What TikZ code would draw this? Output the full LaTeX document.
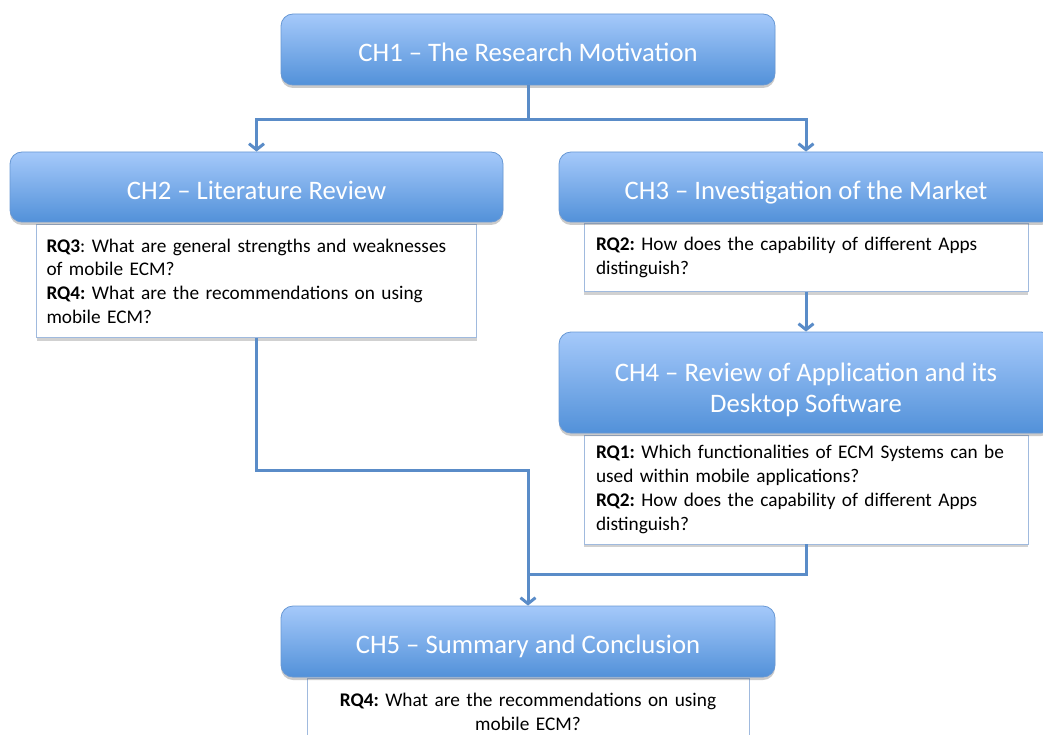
\documentclass[tikz,border=0pt]{standalone}
\usepackage{fontspec}
\setmainfont{Carlito}
\usetikzlibrary{arrows.meta,shadows}
\definecolor{gtop}{RGB}{165,201,250}
\definecolor{gbot}{RGB}{82,145,217}
\definecolor{gborder}{RGB}{104,152,212}
\definecolor{wborder}{RGB}{160,186,222}
\definecolor{conn}{RGB}{90,140,200}
\tikzset{
  headbox/.style={rounded corners=12pt, draw=gborder, line width=0.8pt,
    top color=gtop, bottom color=gbot, text=white, align=center,
    inner sep=0pt, minimum width=494pt,
    font=\fontsize{26.7}{31.5}\selectfont,
    execute at begin node={\rule{0pt}{34pt}},
    execute at end node=\strut,
    drop shadow={shadow xshift=0pt, shadow yshift=-3pt, opacity=0.35, fill=black!60}},
  qbox/.style={draw=wborder, line width=0.8pt, fill=white, inner sep=0pt,
    text width=420pt, align=left,
    font=\fontsize{19.3}{23.7}\selectfont\frenchspacing,
    drop shadow={shadow xshift=0pt, shadow yshift=-3pt, opacity=0.3, fill=black!60}},
  connector/.style={draw=conn, line width=3pt},
  arrowed/.style={connector, -{Straight Barb[length=6pt,width=15pt,line width=3pt]}}
}
\begin{document}
\begin{tikzpicture}[x=1pt,y=-1pt]
\useasboundingbox (0,0) rectangle (1043,735);
% question boxes
\node[qbox, minimum width=440pt, minimum height=113pt] (w2) at (256.5,281) {\textbf{RQ3}: What are general strengths and weaknesses\\of mobile ECM?\\\textbf{RQ4:} What are the recommendations on using\\mobile ECM?};
\node[qbox, minimum width=444pt, minimum height=68pt] (w3) at (806,257.5) {\textbf{RQ2:} How does the capability of different Apps\\distinguish?};
\node[qbox, minimum width=444pt, minimum height=109pt] (w4) at (806,489.5) {\textbf{RQ1:} Which functionalities of ECM Systems can be\\used within mobile applications?\\\textbf{RQ2:} How does the capability of different Apps\\distinguish?};
\node[qbox, minimum width=442pt, minimum height=68pt, align=center] (w5) at (528,712) {\textbf{RQ4:} What are the recommendations on using\\mobile ECM?};
% heading boxes
\node[headbox, minimum height=71pt] (ch1) at (528,49.5) {CH1 -- The Research Motivation};
\node[headbox, minimum width=493pt, minimum height=70pt] (ch2) at (256.5,187) {CH2 -- Literature Review};
\node[headbox, minimum height=70pt] (ch3) at (806,187) {CH3 -- Investigation of the Market};
\node[headbox, minimum height=101pt, execute at begin node={}, execute at end node={}] (ch4) at (806,382.5) {\rule{0pt}{38pt}CH4 -- Review of Application and its\\Desktop Software\strut};
\node[headbox, minimum height=71pt] (ch5) at (528,641.5) {CH5 -- Summary and Conclusion};
% junctions
\coordinate (j1) at (528,120);
\coordinate (j2) at (256.5,470);
\coordinate (j3) at (528,574);
% connectors
\draw[arrowed] (ch1.south) -- (j1) -| (ch2.north);
\draw[arrowed] (ch1.south) -- (j1) -| (ch3.north);
\draw[arrowed] (w3.south) -- (ch4.north);
\draw[arrowed] (w2.south) -- (j2) -| (ch5.north);
\draw[connector] (w4.south) |- (j3);
\end{tikzpicture}
\end{document}
